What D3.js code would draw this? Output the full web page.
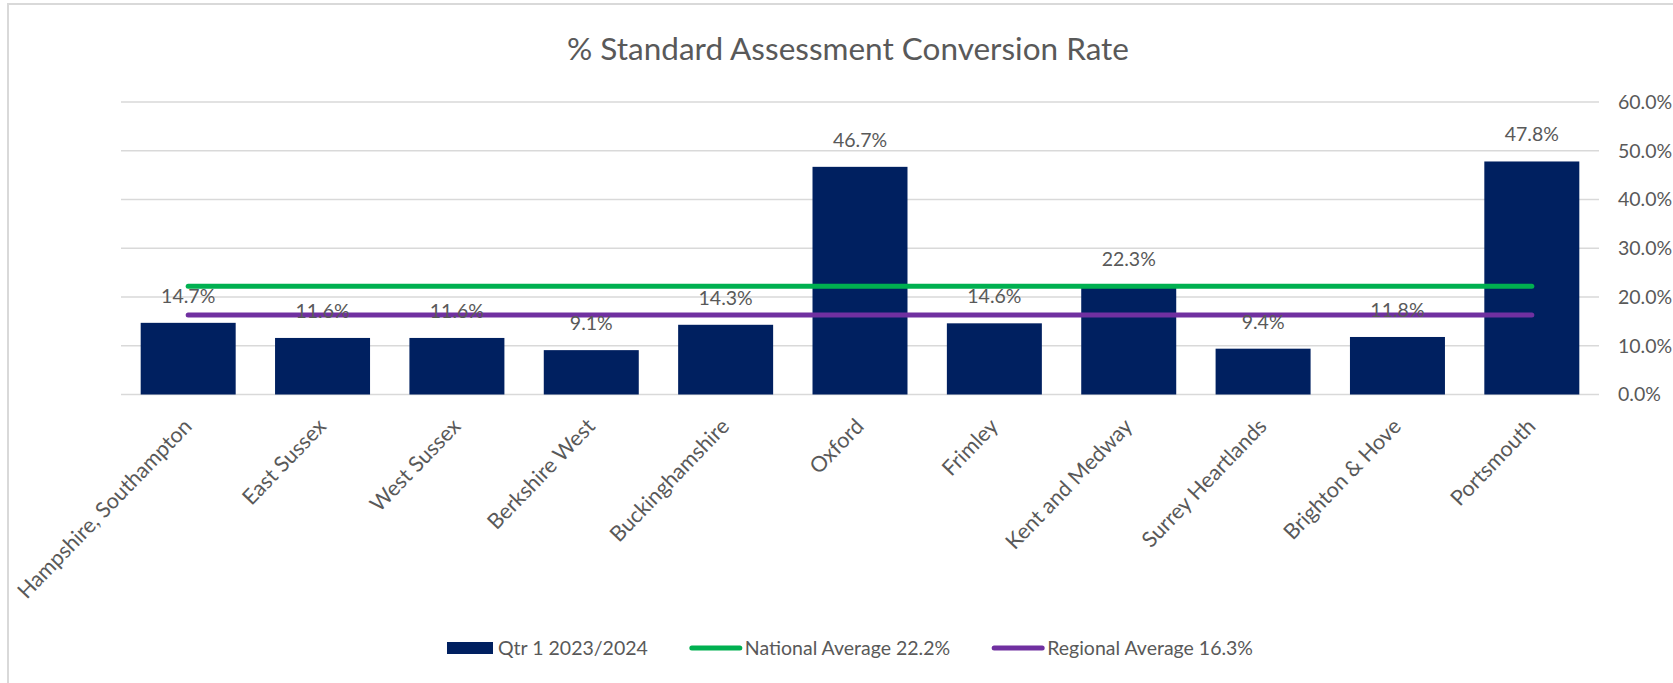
<!DOCTYPE html>
<html lang="en">
<head>
    <meta charset="UTF-8">
    <title>% Standard Assessment Conversion Rate</title>
    <style>
        body {
            margin: 0;
            background: #fff;
            font-family: Lato, "Open Sans", sans-serif;
        }

        .grid line {
            stroke: #d9d9d9;
            stroke-width: 1.5px;
        }

        .txt {
            fill: #595959;
        }
    </style>
</head>
<body>

<div id="chart"></div>

<script src="https://cdn.jsdelivr.net/npm/d3@7"></script>
<script>
    // data
    const categories = [
        "Hampshire, Southampton", "East Sussex", "West Sussex", "Berkshire West",
        "Buckinghamshire", "Oxford", "Frimley", "Kent and Medway",
        "Surrey Heartlands", "Brighton & Hove", "Portsmouth"
    ];
    const rates = [0.147, 0.116, 0.116, 0.091, 0.143, 0.467, 0.146, 0.223, 0.094, 0.118, 0.478];
    const nationalAvg = [0.222, 0.222, 0.222, 0.222, 0.222, 0.222, 0.222, 0.222, 0.222, 0.222, 0.222];
    const regionalAvg = [0.163, 0.163, 0.163, 0.163, 0.163, 0.163, 0.163, 0.163, 0.163, 0.163, 0.163];
    const yTicks = [0, 0.1, 0.2, 0.3, 0.4, 0.5, 0.6];
    const legendLabels = ["Qtr 1 2023/2024", "National Average 22.2%", "Regional Average 16.3%"];
    const colors = ["#002060", "#00b050", "#7030a0"];

    const W = 1673, H = 683;
    const plot = { left: 121, right: 1599, top: 102, bottom: 394.5 };

    const svg = d3.select("#chart").append("svg")
        .attr("width", W)
        .attr("height", H);

    // chart border (only top and left edge are in view)
    svg.append("rect")
        .attr("x", 8).attr("y", 4)
        .attr("width", W + 20).attr("height", H + 20)
        .attr("fill", "none")
        .attr("stroke", "#d9d9d9")
        .attr("stroke-width", 2);

    const x = d3.scaleBand()
        .domain(categories)
        .range([plot.left, plot.right])
        .paddingInner(0.293)
        .paddingOuter(0.1465);

    const y = d3.scaleLinear()
        .domain([0, 0.6])
        .range([plot.bottom, plot.top]);

    const pct = d3.format(".1%");
    const cx = d => x(d) + x.bandwidth() / 2;

    // title
    svg.append("text")
        .attr("class", "txt")
        .attr("x", 848)
        .attr("y", 60)
        .attr("text-anchor", "middle")
        .style("font-size", "31.5px")
        .text("% Standard Assessment Conversion Rate");

    // gridlines
    svg.append("g")
        .attr("class", "grid")
        .selectAll("line")
        .data(yTicks)
        .join("line")
        .attr("x1", plot.left)
        .attr("x2", plot.right)
        .attr("y1", d => y(d))
        .attr("y2", d => y(d));

    // right axis labels
    const yAxis = svg.append("g")
        .attr("transform", "translate(" + plot.right + ",0)")
        .call(d3.axisRight(y).tickValues(yTicks).tickFormat(pct).tickSize(0).tickPadding(19));
    yAxis.select(".domain").remove();
    yAxis.selectAll("text")
        .attr("class", "txt")
        .attr("fill", null)
        .style("font-size", "19.5px")
        .style("font-family", "Lato, sans-serif");

    // bars
    svg.append("g")
        .selectAll("rect")
        .data(categories)
        .join("rect")
        .attr("x", d => x(d))
        .attr("width", x.bandwidth())
        .attr("y", (d, i) => y(rates[i]))
        .attr("height", (d, i) => y(0) - y(rates[i]))
        .attr("fill", colors[0]);

    // average lines
    const line = d3.line()
        .x((d, i) => cx(categories[i]))
        .y(d => y(d));

    [nationalAvg, regionalAvg].forEach((series, k) => {
        svg.append("path")
            .datum(series)
            .attr("d", line)
            .attr("fill", "none")
            .attr("stroke", colors[k + 1])
            .attr("stroke-width", 5)
            .attr("stroke-linecap", "round");
    });

    // data labels
    svg.append("g")
        .selectAll("text")
        .data(categories)
        .join("text")
        .attr("class", "txt")
        .attr("x", d => cx(d))
        .attr("y", (d, i) => y(rates[i]) - 20)
        .attr("text-anchor", "middle")
        .style("font-size", "19.5px")
        .text((d, i) => pct(rates[i]));

    // category labels, rotated
    svg.append("g")
        .selectAll("text")
        .data(categories)
        .join("text")
        .attr("class", "txt")
        .attr("text-anchor", "end")
        .attr("transform", d => "translate(" + (cx(d) + 5) + "," + (plot.bottom + 33) + ") rotate(-46)")
        .style("font-size", "21.5px")
        .text(d => d);

    // legend
    const legend = svg.append("g");
    const legY = 648;
    let lx = 0;
    legendLabels.forEach((label, i) => {
        const item = legend.append("g").attr("transform", "translate(" + lx + ",0)");
        if (i === 0) {
            item.append("rect")
                .attr("x", 0).attr("y", legY - 6)
                .attr("width", 46).attr("height", 12)
                .attr("fill", colors[i]);
        } else {
            item.append("line")
                .attr("x1", 2).attr("x2", 50)
                .attr("y1", legY).attr("y2", legY)
                .attr("stroke", colors[i])
                .attr("stroke-width", 5)
                .attr("stroke-linecap", "round");
        }
        const sw = i === 0 ? 51 : 55;
        const t = item.append("text")
            .attr("class", "txt")
            .attr("x", sw)
            .attr("y", legY + 7)
            .style("font-size", "19.5px")
            .text(label);
        lx += sw + t.node().getComputedTextLength() + 42;
    });
    const lb = legend.node().getBBox();
    legend.attr("transform", "translate(" + (850 - lb.width / 2 - lb.x) + ",0)");
</script>

</body>
</html>
